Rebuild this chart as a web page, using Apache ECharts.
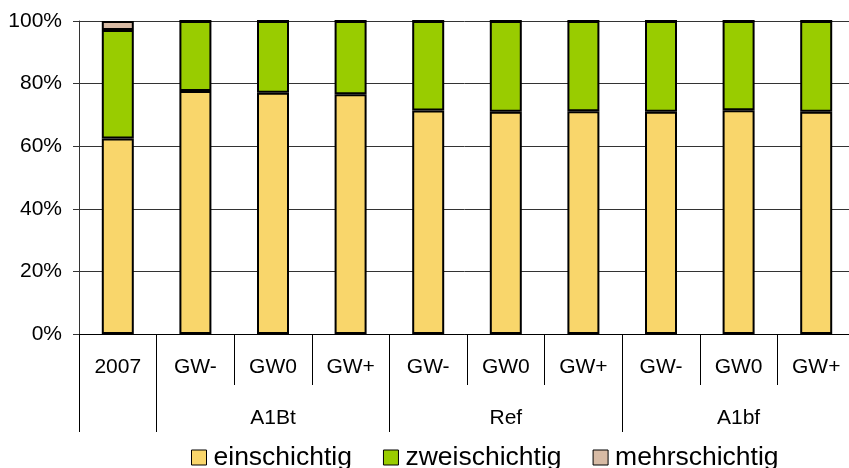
<!DOCTYPE html>
<html>
<head>
<meta charset="utf-8">
<script src="https://cdn.jsdelivr.net/npm/echarts@6/dist/echarts.min.js"></script>
<style>html,body{margin:0;padding:0;background:#fff}#c{width:849px;height:468px}</style>
</head>
<body>
<div id="c"></div>
<script>
var categories = ['2007', 'GW-', 'GW0', 'GW+', 'GW-', 'GW0', 'GW+', 'GW-', 'GW0', 'GW+'];
var groupLabels = ['', '', 'A1Bt', '', '', 'Ref', '', '', 'A1bf', ''];
var groupStarts = [0, 1, 4, 7];
var einschichtig = [62.5, 77.6, 77.1, 76.6, 71.4, 71.0, 71.2, 71.0, 71.5, 71.0];
var zweischichtig = [34.6, 22.4, 22.9, 23.4, 28.6, 29.0, 28.8, 29.0, 28.5, 29.0];
var mehrschichtig = [2.9, 0, 0, 0, 0, 0, 0, 0, 0, 0];
var yTicks = [0, 20, 40, 60, 80, 100];

var FONT = 'Liberation Sans, Arial, sans-serif';
var chart = echarts.init(document.getElementById('c'), null, {renderer: 'canvas'});
function bar(name, data, color) {
  return {
    name: name, type: 'bar', stack: 's', data: data, barWidth: 32,
    itemStyle: {color: color, borderColor: '#000', borderWidth: 2},
    emphasis: {disabled: true}
  };
}
chart.setOption({
  animation: false,
  grid: {left: 79, top: 21, height: 313, width: 776, containLabel: false, outerBoundsMode: 'none'},
  legend: {
    left: 186, top: 439, itemWidth: 15, itemHeight: 15, itemGap: 31,
    icon: 'rect',
    itemStyle: {borderColor: '#000', borderWidth: 1},
    textStyle: {fontFamily: FONT, fontSize: 26.5, color: '#000', padding: [0, 0, 0, 2]},
    data: ['einschichtig', 'zweischichtig', 'mehrschichtig']
  },
  xAxis: [{
    type: 'category', data: categories, position: 'bottom',
    axisLine: {lineStyle: {color: '#000', width: 1}},
    axisTick: {show: true, length: 51, lineStyle: {color: '#000', width: 1}},
    axisLabel: {interval: 0, margin: 23, fontFamily: FONT, fontSize: 21, color: '#000'}
  }, {
    type: 'category', data: groupLabels, position: 'bottom',
    axisLine: {show: false},
    axisTick: {show: true, length: 98, interval: function (i) { return groupStarts.indexOf(i) >= 0; }, lineStyle: {color: '#000', width: 1}},
    axisLabel: {interval: 0, margin: 74, fontFamily: FONT, fontSize: 21, color: '#000'}
  }],
  yAxis: {
    type: 'value', min: yTicks[0], max: yTicks[yTicks.length - 1], interval: 20,
    axisLine: {show: true, lineStyle: {color: '#333'}},
    axisTick: {show: true, length: 6, lineStyle: {color: '#333'}},
    axisLabel: {margin: 17, fontFamily: FONT, fontSize: 21, color: '#000', formatter: '{value}%'},
    splitLine: {lineStyle: {color: '#333', width: 1}}
  },
  series: [
    bar('einschichtig', einschichtig, '#F9D66B'),
    bar('zweischichtig', zweischichtig, '#99CC00'),
    bar('mehrschichtig', mehrschichtig, '#D8BBA5')
  ]
});
</script>
</body>
</html>
